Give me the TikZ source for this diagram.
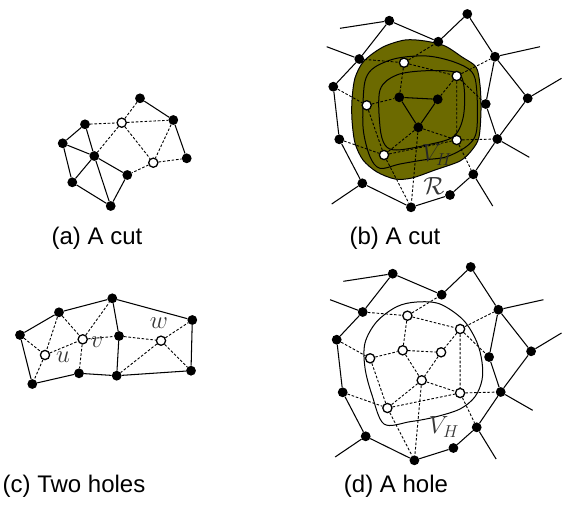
\documentclass[tikz,border=0pt]{standalone}
\usepackage{fontspec}
\newfontfamily\capfont{Liberation Sans}
\definecolor{olivefill}{RGB}{108,106,0}
\definecolor{labgray}{RGB}{55,55,55}
\definecolor{labdark}{RGB}{40,40,40}
\begin{document}
\begin{tikzpicture}[x=1pt,y=-1pt,
  blk/.style={circle,fill=black,inner sep=0pt,minimum size=9.8pt},
  wht/.style={circle,draw=black,fill=white,line width=1.3pt,inner sep=0pt,minimum size=9.2pt},
  sol/.style={line width=1.05pt},
  dsh/.style={line width=0.9pt,dash pattern=on 2.6pt off 1.8pt},
  curve/.style={line width=1pt},
  captext/.style={font=\capfont\fontsize{24}{28}\selectfont},
  mlab/.style={text=labgray,font=\fontsize{26}{30}\selectfont,inner sep=0pt}]
\useasboundingbox (0,0) rectangle (562,504);

% ---------------- (a) ----------------
\node[blk] (A) at (140,98.3) {};
\node[blk] (B) at (173.3,120) {};
\node[wht] (C) at (121.7,122.7) {};
\node[blk] (D) at (85,124.3) {};
\node[blk] (E) at (62.7,143.3) {};
\node[blk] (F) at (94.3,156) {};
\node[blk] (G) at (186.7,158.3) {};
\node[wht] (H) at (153.3,162.7) {};
\node[blk] (I) at (127.3,175) {};
\node[blk] (J) at (72.3,182.3) {};
\node[blk] (K) at (110.7,206) {};
\draw[sol] (A)--(B) (B)--(G) (D)--(E) (D)--(F) (E)--(F) (E)--(J) (J)--(F) (F)--(I) (F)--(K) (J)--(K) (K)--(I);
\draw[dsh] (D)--(C) (C)--(A) (C)--(B) (C)--(F) (C)--(H) (B)--(H) (H)--(G) (H)--(I);
\node[captext] (capa) at (97,238) {(a) A cut};

% ---------------- (b) ----------------
\fill[olivefill,draw=black,line width=1pt] plot[smooth cycle,tension=0.5] coordinates {
 (352,100) (355,78) (364,61) (383,47) (405,40) (425,41) (445,46) (462,57) (476,67)
 (480,85) (481,110) (479,137) (472,150) (460,161) (435,170) (412,178) (395,179)
 (377,172) (363,160) (355,143) (352,120)};
\draw[curve] plot[smooth cycle,tension=0.55] coordinates {
 (363.3,96.7) (366,78) (375,67) (396.7,58.3) (426.7,56) (453.3,61.7) (471.7,71.7)
 (476.7,90) (476.7,130) (468.3,145) (446.7,156.7) (423.3,160) (400,164) (380,168.3)
 (370,156.7) (363.3,130)};
\draw[curve] plot[smooth cycle,tension=0.55] coordinates {
 (380,90) (396.7,75) (426.7,70.7) (456.7,72.7) (464,86.7) (463.3,116.7) (453.3,136.7)
 (426.7,145) (396.7,150) (385,145) (380,126.7)};

\node[blk] (b1) at (389.3,20.7) {};
\node[blk] (b2) at (467.3,14) {};
\node[blk] (b3) at (438.3,41.7) {};
\node[blk] (b4) at (359.3,59) {};
\node[blk] (b5) at (495,56.7) {};
\node[blk] (b6) at (333.3,86.7) {};
\node[blk] (b7) at (527.7,98.3) {};
\node[blk] (b8) at (485.7,104) {};
\node[blk] (b9) at (339.3,139.3) {};
\node[blk] (b10) at (497.3,139) {};
\node[blk] (b11) at (362.3,183.3) {};
\node[blk] (b12) at (473.3,174.3) {};
\node[blk] (b13) at (450,195) {};
\node[blk] (b14) at (411,207.3) {};
\node[blk] (bc1) at (399.3,97.3) {};
\node[blk] (bc2) at (437.7,99.3) {};
\node[blk] (bc3) at (418.3,127.3) {};
\node[wht] (bw1) at (404,62.7) {};
\node[wht] (bw2) at (456.7,76) {};
\node[wht] (bw3) at (366.7,105.3) {};
\node[wht] (bw4) at (456.7,140) {};
\node[wht] (bw5) at (384,155) {};
\coordinate (bf1) at (340,28.3);
\coordinate (bf4) at (326.7,46.7);
\coordinate (bf5) at (540,46.7);
\coordinate (bf7) at (561.5,78.3);
\coordinate (bf10) at (529.3,157.3);
\coordinate (bf12) at (492.7,206);
\coordinate (bf11) at (331.7,204);
\draw[sol] (b1)--(bf1) (b4)--(bf4) (b5)--(bf5) (b7)--(bf7) (b10)--(bf10) (b12)--(bf12) (b11)--(bf11)
 (b1)--(b3) (b3)--(b2) (b2)--(b5) (b5)--(b7) (b5)--(b8) (b8)--(b10) (b7)--(b10)
 (b10)--(b12) (b12)--(b13) (b13)--(b14) (b14)--(b11) (b11)--(b9) (b9)--(b6) (b6)--(b4) (b4)--(b1)
 (bc1)--(bc2) (bc1)--(bc3) (bc2)--(bc3);
\draw[dsh] (b4)--(bw1) (bw1)--(b3) (bw1)--(bw2) (bw2)--(b5) (bw1)--(bc1) (bw2)--(bc2)
 (bw2)--(bw4) (bw2)--(b8) (b6)--(bw3) (bw3)--(bc1) (bw3)--(bw5) (bc3)--(bw4) (bc3)--(bw5)
 (b9)--(bw5) (bw5)--(bw4) (bw4)--(b10) (bw4)--(b12) (bw5)--(b14) (bc3)--(b14);
\node[mlab,text=labdark] (vhb) at (437,155) {$V_H$};
\node[mlab] (rb) at (434,186) {$\mathcal{R}$};
\node[captext] (capb) at (395,238) {(b) A cut};

% ---------------- (c) ----------------
\node[blk] (p1) at (20,335) {};
\node[blk] (p2) at (59,312.3) {};
\node[blk] (p3) at (112.3,298.3) {};
\node[blk] (p4) at (192.3,320) {};
\node[wht] (u) at (45,355) {};
\node[wht] (v) at (82.7,339.3) {};
\node[blk] (q1) at (119,336) {};
\node[wht] (w) at (161,340.7) {};
\node[blk] (p5) at (32.3,384) {};
\node[blk] (p6) at (79,373.3) {};
\node[blk] (p7) at (116.7,375.7) {};
\node[blk] (p8) at (191,370.7) {};
\draw[sol] (p1)--(p2) (p2)--(p3) (p3)--(p4) (p4)--(p8) (p8)--(p7) (p7)--(p6) (p6)--(p5) (p5)--(p1) (p3)--(q1) (q1)--(p7);
\draw[dsh] (p1)--(u) (p2)--(u) (u)--(p5) (u)--(v) (p2)--(v) (v)--(p3) (v)--(p6) (v)--(q1) (q1)--(w) (w)--(p4) (w)--(p8) (w)--(p7);
\node[mlab] (lu) at (63,357) {$u$};
\node[mlab] (lv) at (97,342) {$v$};
\node[mlab] (lw) at (159,323) {$w$};
\node[captext] (capc) at (74,486) {(c) Two holes};

% ---------------- (d) ----------------
\draw[curve] plot[smooth cycle,tension=0.55] coordinates {
 (365,343) (376.7,321.7) (396.7,306.7) (416.7,302) (440,304) (463.3,320) (476.7,341.7)
 (482,362) (482,380) (475,396.7) (460,409) (435,417) (410,421.7) (384,424) (372,395) (365,368)};
\node[blk] (d1) at (392.7,273.7) {};
\node[blk] (d2) at (470.7,267) {};
\node[blk] (d3) at (441.7,294.7) {};
\node[blk] (d4) at (362.7,312) {};
\node[blk] (d5) at (498.4,309.7) {};
\node[blk] (d6) at (336.7,339.7) {};
\node[blk] (d7) at (531.1,351.3) {};
\node[blk] (d8) at (489.1,357) {};
\node[blk] (d9) at (342.7,392.3) {};
\node[blk] (d10) at (500.7,392) {};
\node[blk] (d11) at (365.7,436.3) {};
\node[blk] (d12) at (476.7,427.3) {};
\node[blk] (d13) at (453.4,448) {};
\node[blk] (d14) at (414.4,460.3) {};
\node[wht] (dc1) at (402.7,350.3) {};
\node[wht] (dc2) at (441.1,352.3) {};
\node[wht] (dc3) at (421.7,380.3) {};
\node[wht] (dw1) at (407.4,315.7) {};
\node[wht] (dw2) at (460.1,329) {};
\node[wht] (dw3) at (370.1,358.3) {};
\node[wht] (dw4) at (460.1,393) {};
\node[wht] (dw5) at (387.4,408) {};
\coordinate (df1) at (343.4,281.3);
\coordinate (df4) at (330.1,299.7);
\coordinate (df5) at (543.4,299.7);
\coordinate (df7) at (561.5,333);
\coordinate (df10) at (532.7,410.3);
\coordinate (df12) at (496.1,459);
\coordinate (df11) at (335.1,457);
\draw[sol] (d1)--(df1) (d4)--(df4) (d5)--(df5) (d7)--(df7) (d10)--(df10) (d12)--(df12) (d11)--(df11)
 (d1)--(d3) (d3)--(d2) (d2)--(d5) (d5)--(d7) (d5)--(d8) (d8)--(d10) (d7)--(d10)
 (d10)--(d12) (d12)--(d13) (d13)--(d14) (d14)--(d11) (d11)--(d9) (d9)--(d6) (d6)--(d4) (d4)--(d1);
\draw[dsh] (dc1)--(dc2) (dc1)--(dc3) (dc2)--(dc3)
 (d4)--(dw1) (dw1)--(d3) (dw1)--(dw2) (dw2)--(d5) (dw1)--(dc1) (dw2)--(dc2)
 (dw2)--(dw4) (dw2)--(d8) (d6)--(dw3) (dw3)--(dc1) (dw3)--(dw5) (dc3)--(dw4) (dc3)--(dw5)
 (d9)--(dw5) (dw5)--(dw4) (dw4)--(d10) (dw4)--(d12) (dw5)--(d14) (dc3)--(d14);
\node[mlab] (vhd) at (444,427) {$V_H$};
\node[captext] (capd) at (396,486) {(d) A hole};
\end{tikzpicture}
\end{document}
